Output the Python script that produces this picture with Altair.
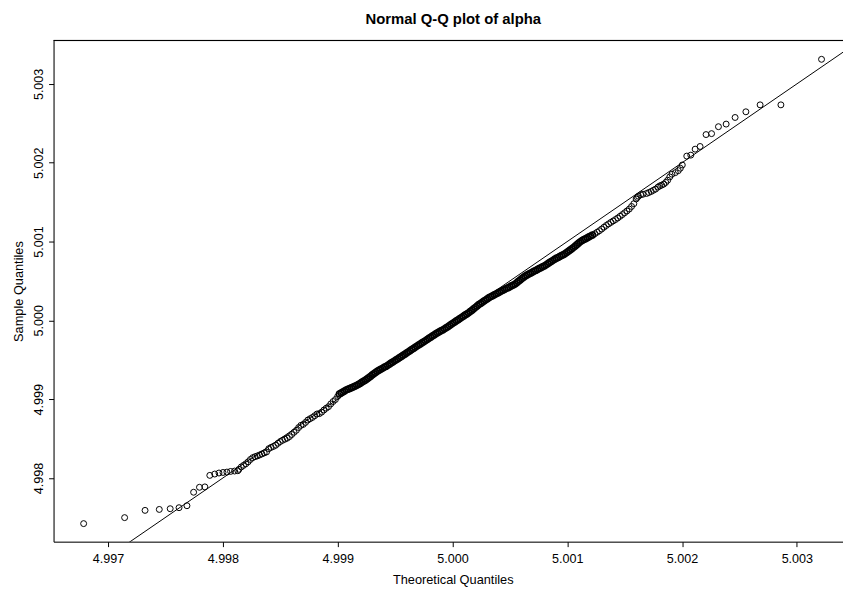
import altair as alt
import pandas as pd

# ---- data (theoretical, sample quantiles) ----
# lower tail: individually visible circles
tail_lo_x = [4.996787, 4.997144, 4.997322, 4.997446, 4.997541, 4.997618, 4.997687, 4.997745, 4.997796,
             4.997843, 4.997886, 4.997929, 4.997966, 4.998001, 4.998035, 4.998067, 4.998102, 4.998130]
tail_lo_y = [4.997421, 4.997497, 4.997589, 4.997601, 4.997610, 4.997623, 4.997648, 4.997819, 4.997882,
             4.997887, 4.998033, 4.998050, 4.998063, 4.998070, 4.998075, 4.998083, 4.998088, 4.998092]

# lower band (4.9981 - 4.9990): chain of overlapping circles
band_a_x = [4.998140, 4.998160, 4.998180, 4.998200, 4.998220, 4.998240, 4.998260, 4.998280, 4.998300,
            4.998320, 4.998340, 4.998360, 4.998380, 4.998400, 4.998420, 4.998440, 4.998460, 4.998480,
            4.998500, 4.998520, 4.998540, 4.998560, 4.998580, 4.998600, 4.998620, 4.998640, 4.998660,
            4.998680, 4.998700, 4.998720, 4.998740, 4.998760, 4.998780, 4.998800, 4.998820, 4.998840,
            4.998860, 4.998880, 4.998900, 4.998920, 4.998940, 4.998960, 4.998980, 4.999000]
band_a_y = [4.998110, 4.998140, 4.998160, 4.998180, 4.998205, 4.998235, 4.998258, 4.998270, 4.998280,
            4.998292, 4.998305, 4.998318, 4.998330, 4.998372, 4.998388, 4.998400, 4.998415, 4.998440,
            4.998462, 4.998478, 4.998492, 4.998505, 4.998525, 4.998552, 4.998580, 4.998605, 4.998640,
            4.998668, 4.998680, 4.998705, 4.998735, 4.998752, 4.998768, 4.998790, 4.998812, 4.998816,
            4.998835, 4.998862, 4.998885, 4.998905, 4.998940, 4.998970, 4.998995, 4.999035]

# central band (4.9990 - 5.0012): solid black band
band_b_x = [
    4.999015, 4.999030, 4.999045, 4.999060, 4.999075, 4.999090, 4.999105, 4.999120, 4.999135, 4.999150,
    4.999165, 4.999180, 4.999195, 4.999210, 4.999225, 4.999240, 4.999255, 4.999270, 4.999285, 4.999300,
    4.999315, 4.999330, 4.999345, 4.999360, 4.999375, 4.999390, 4.999405, 4.999420, 4.999435, 4.999450,
    4.999465, 4.999480, 4.999495, 4.999510, 4.999525, 4.999540, 4.999555, 4.999570, 4.999585, 4.999600,
    4.999615, 4.999630, 4.999645, 4.999660, 4.999675, 4.999690, 4.999705, 4.999720, 4.999735, 4.999750,
    4.999765, 4.999780, 4.999795, 4.999810, 4.999825, 4.999840, 4.999855, 4.999870, 4.999885, 4.999900,
    4.999915, 4.999930, 4.999945, 4.999960, 4.999975, 4.999990, 5.000005, 5.000020, 5.000035, 5.000050,
    5.000065, 5.000080, 5.000095, 5.000110, 5.000125, 5.000140, 5.000155, 5.000170, 5.000185, 5.000200,
    5.000215, 5.000230, 5.000245, 5.000260, 5.000275, 5.000290, 5.000305, 5.000320, 5.000335, 5.000350,
    5.000365, 5.000380, 5.000395, 5.000410, 5.000425, 5.000440, 5.000455, 5.000470, 5.000485, 5.000500,
    5.000515, 5.000530, 5.000545, 5.000560, 5.000575, 5.000590, 5.000605, 5.000620, 5.000635, 5.000650,
    5.000665, 5.000680, 5.000695, 5.000710, 5.000725, 5.000740, 5.000755, 5.000770, 5.000785, 5.000800,
    5.000815, 5.000830, 5.000845, 5.000860, 5.000875, 5.000890, 5.000905, 5.000920, 5.000935, 5.000950,
    5.000965, 5.000980, 5.000995, 5.001010, 5.001025, 5.001040, 5.001055, 5.001070, 5.001085, 5.001100,
    5.001115, 5.001130, 5.001145, 5.001160, 5.001175, 5.001190, 5.001205, 5.001220,
]
band_b_y = [
    4.999065, 4.999079, 4.999092, 4.999105, 4.999118, 4.999127, 4.999135, 4.999145, 4.999155, 4.999165,
    4.999175, 4.999187, 4.999200, 4.999214, 4.999227, 4.999241, 4.999256, 4.999272, 4.999289, 4.999306,
    4.999322, 4.999339, 4.999354, 4.999366, 4.999379, 4.999391, 4.999404, 4.999416, 4.999429, 4.999444,
    4.999458, 4.999472, 4.999486, 4.999500, 4.999514, 4.999528, 4.999542, 4.999557, 4.999571, 4.999585,
    4.999600, 4.999614, 4.999629, 4.999644, 4.999658, 4.999673, 4.999687, 4.999701, 4.999715, 4.999729,
    4.999743, 4.999758, 4.999772, 4.999786, 4.999801, 4.999815, 4.999830, 4.999842, 4.999855, 4.999867,
    4.999879, 4.999892, 4.999905, 4.999920, 4.999935, 4.999950, 4.999965, 4.999980, 4.999995, 5.000009,
    5.000023, 5.000038, 5.000052, 5.000067, 5.000081, 5.000095, 5.000112, 5.000129, 5.000147, 5.000165,
    5.000182, 5.000200, 5.000215, 5.000230, 5.000245, 5.000260, 5.000275, 5.000289, 5.000301, 5.000312,
    5.000324, 5.000336, 5.000348, 5.000359, 5.000371, 5.000382, 5.000393, 5.000404, 5.000415, 5.000427,
    5.000438, 5.000449, 5.000460, 5.000478, 5.000495, 5.000513, 5.000531, 5.000548, 5.000564, 5.000576,
    5.000587, 5.000599, 5.000611, 5.000622, 5.000634, 5.000645, 5.000657, 5.000668, 5.000680, 5.000691,
    5.000704, 5.000719, 5.000733, 5.000747, 5.000761, 5.000775, 5.000787, 5.000798, 5.000810, 5.000822,
    5.000833, 5.000845, 5.000861, 5.000877, 5.000893, 5.000909, 5.000926, 5.000944, 5.000963, 5.000981,
    5.000999, 5.001013, 5.001025, 5.001036, 5.001048, 5.001060, 5.001072, 5.001083,
]

# upper band (5.0012 - 5.0020)
band_c_x = [5.001240, 5.001260, 5.001280, 5.001300, 5.001320, 5.001340, 5.001360, 5.001380, 5.001400,
            5.001420, 5.001440, 5.001460, 5.001480, 5.001500, 5.001520, 5.001540, 5.001560, 5.001580,
            5.001600, 5.001610, 5.001620, 5.001639, 5.001660, 5.001691, 5.001710, 5.001731, 5.001750,
            5.001769, 5.001790, 5.001806, 5.001822, 5.001840, 5.001858, 5.001875, 5.001893, 5.001912,
            5.001941, 5.001967, 5.001985, 5.002002]
band_c_y = [5.001099, 5.001118, 5.001137, 5.001159, 5.001182, 5.001204, 5.001224, 5.001243, 5.001261,
            5.001279, 5.001299, 5.001320, 5.001342, 5.001365, 5.001388, 5.001412, 5.001445, 5.001480,
            5.001540, 5.001559, 5.001575, 5.001593, 5.001600, 5.001610, 5.001622, 5.001635, 5.001650,
            5.001665, 5.001690, 5.001706, 5.001715, 5.001728, 5.001750, 5.001778, 5.001820, 5.001854,
            5.001874, 5.001899, 5.001930, 5.001971]

# upper tail: individually visible circles
tail_hi_x = [5.002041, 5.002076, 5.002114, 5.002157, 5.002209, 5.002257, 5.002317, 5.002384, 5.002462,
             5.002556, 5.002680, 5.002861, 5.003215]
tail_hi_y = [5.002084, 5.002096, 5.002172, 5.002206, 5.002357, 5.002369, 5.002457, 5.002490, 5.002574,
             5.002646, 5.002734, 5.002734, 5.003312]

x_ticks = [4.997, 4.998, 4.999, 5.000, 5.001, 5.002, 5.003]
y_ticks = [4.998, 4.999, 5.000, 5.001, 5.002, 5.003]
ref_line = [4.9960, 5.0040]          # y = x reference line endpoints
x_domain = [4.996525, 5.003402]
y_domain = [4.997192, 5.003551]

outer_x = tail_lo_x + band_a_x + band_c_x + tail_hi_x
outer_y = tail_lo_y + band_a_y + band_c_y + tail_hi_y
assert len(outer_x) == len(outer_y) and len(band_b_x) == len(band_b_y)

W, H = 797, 506
FONT = "Liberation Sans"

outer_df = pd.DataFrame({"theoretical": outer_x, "sample": outer_y})
center_df = pd.DataFrame({"theoretical": band_b_x, "sample": band_b_y})
line_df = pd.DataFrame({"theoretical": ref_line, "sample": ref_line})

xscale = alt.Scale(domain=x_domain, nice=False, zero=False)
yscale = alt.Scale(domain=y_domain, nice=False, zero=False)

x_axis = alt.Axis(
    values=x_ticks, format=".3f", grid=False, tickSize=5, tickColor="black",
    domainColor="black", domainWidth=1, tickWidth=1,
    labelFont=FONT, labelFontSize=12.7, labelColor="black",
    labelBaseline="alphabetic", labelPadding=16, labelOverlap=False, labelFlush=False,
    title="Theoretical Quantiles", titleFont=FONT, titleFontSize=12.9,
    titleFontWeight="normal", titleColor="black",
    titleX=403, titleY=42, titleAlign="center", titleBaseline="alphabetic",
)
y_axis = alt.Axis(
    values=y_ticks, format=".3f", grid=False, tickSize=5, tickColor="black",
    domainColor="black", domainWidth=1, tickWidth=1,
    labelFont=FONT, labelFontSize=12.7, labelColor="black",
    labelAngle=270, labelAlign="center", labelBaseline="alphabetic",
    labelPadding=6, labelOverlap=False, labelFlush=False,
    title="Sample Quantiles", titleFont=FONT, titleFontSize=12.9,
    titleFontWeight="normal", titleColor="black", titleAngle=270,
    titleX=-31.5, titleY=253, titleAlign="center", titleBaseline="alphabetic",
)

outer_points = alt.Chart(outer_df).mark_point(
    shape="circle", filled=False, color="black", size=36, strokeWidth=1, opacity=1
).encode(
    x=alt.X("theoretical:Q", scale=xscale, axis=x_axis),
    y=alt.Y("sample:Q", scale=yscale, axis=y_axis),
)

center_points = alt.Chart(center_df).mark_point(
    shape="circle", filled=False, color="black", size=36, strokeWidth=1.5, opacity=1
).encode(
    x=alt.X("theoretical:Q", scale=xscale),
    y=alt.Y("sample:Q", scale=yscale),
)

qq_line = alt.Chart(line_df).mark_line(color="black", strokeWidth=1, clip=True).encode(
    x=alt.X("theoretical:Q", scale=xscale),
    y=alt.Y("sample:Q", scale=yscale),
)

top_border = alt.Chart(line_df).mark_rule(color="black", strokeWidth=1).encode(
    x=alt.value(0), x2=alt.value(W), y=alt.value(0)
)

chart = alt.layer(qq_line, outer_points, center_points, top_border).properties(
    width=W, height=H,
    title=alt.TitleParams(
        "Normal Q-Q plot of alpha", font=FONT, fontSize=15, fontWeight="bold",
        color="black", anchor="middle", dx=5, offset=13,
    ),
    autosize=alt.AutoSizeParams(type="none"),
    padding={"left": 46, "top": 30, "right": 0, "bottom": 44},
).configure_view(stroke=None).configure(background="white")

chart.save("out.html", embed_options={"renderer": "svg", "actions": False})
